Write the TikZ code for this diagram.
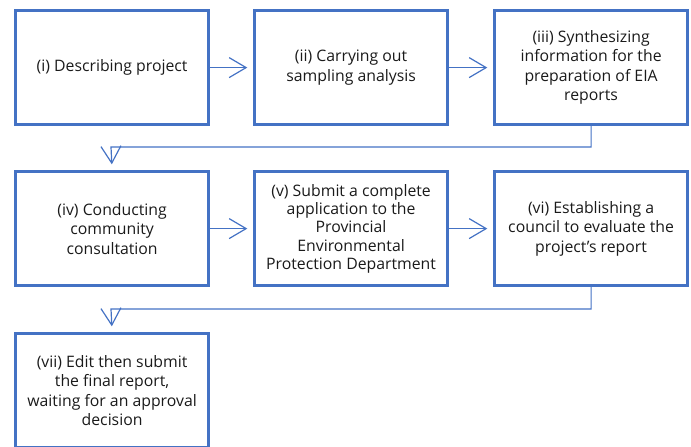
\documentclass[tikz,border=0pt]{standalone}
\usepackage{fontspec}
\setmainfont{Open Sans}
\usetikzlibrary{arrows.meta}
\definecolor{boxblue}{HTML}{4472C4}
\definecolor{txt}{HTML}{1A1A1A}
\tikzset{
  stepbox/.style={draw=boxblue, line width=2.6pt, minimum width=193pt, minimum height=114pt, align=center, inner sep=0pt, font=\fontsize{15.8}{19.5}\selectfont, text=txt, anchor=north west},
  conn/.style={draw=boxblue, line width=1.2pt, -{Straight Barb[length=17pt, width=20pt, line width=1.2pt]}, shorten >=6pt}
}
\begin{document}
\begin{tikzpicture}[x=1pt,y=-1pt]
\useasboundingbox (0,0) rectangle (691,447);
\node[stepbox] (b1) at (14.3,9.3) {(i) Describing project};
\node[stepbox] (b2) at (253.3,9.3) {(ii) Carrying out\\sampling analysis};
\node[stepbox] (b3) at (493.3,9.3) {(iii) Synthesizing\\information for the\\preparation of EIA\\reports};
\node[stepbox] (b4) at (14.3,170.3) {(iv) Conducting\\community\\consultation};
\node[stepbox, font=\fontsize{15.8}{18.3}\selectfont] (b5) at (253.3,170.3) {(v) Submit a complete\\application to the\\Provincial\\Environmental\\Protection Department};
\node[stepbox] (b6) at (493.3,170.3) {(vi) Establishing a\\council to evaluate the\\project's report};
\node[stepbox] (b7) at (14.3,332.3) {(vii) Edit then submit\\the final report,\\waiting for an approval\\decision};
\draw[conn] (b1.east) -- (b2.west);
\draw[conn] (b2.east) -- (b3.west);
\draw[conn] (b4.east) -- (b5.west);
\draw[conn] (b5.east) -- (b6.west);
\draw[conn] (b3.south) |- (111,147) -- (b4.north);
\draw[conn] (b6.south) |- (111,309) -- (b7.north);
\end{tikzpicture}
\end{document}
